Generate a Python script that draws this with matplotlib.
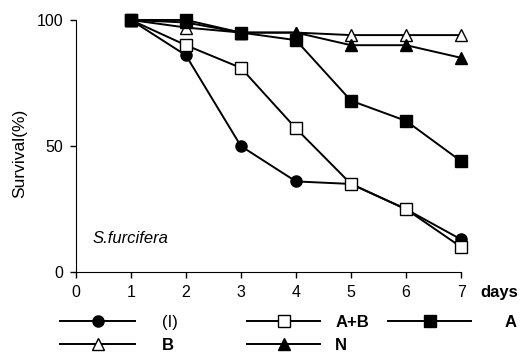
import matplotlib.pyplot as plt
from matplotlib.lines import Line2D

plt.rcParams['font.family'] = ['Liberation Sans', 'DejaVu Sans']

days = [1, 2, 3, 4, 5, 6, 7]
surv_I = [100, 86, 50, 36, 35, 25, 13]
surv_AB = [100, 90, 81, 57, 35, 25, 10]
surv_A = [100, 100, 95, 92, 68, 60, 44]
surv_B = [100, 97, 95, 95, 94, 94, 94]
surv_N = [100, 99, 95, 95, 90, 90, 85]

fig = plt.figure(figsize=(5.3, 3.63), dpi=100)
ax = fig.add_axes([0.143, 0.25, 0.727, 0.695])

style = dict(color='black', lw=1.4, clip_on=False, zorder=3)
ax.plot(days, surv_I, marker='o', ms=8, mfc='black', **style)
ax.plot(days, surv_AB, marker='s', ms=8.5, mfc='white', mec='black', **style)
ax.plot(days, surv_B, marker='^', ms=9, mfc='white', mec='black', **style)
ax.plot(days, surv_N, marker='^', ms=9, mfc='black', **style)
ax.plot(days, surv_A, marker='s', ms=8.5, mfc='black', **style)

ax.set_xlim(0, 7)
ax.set_ylim(0, 100)
ax.set_xticks(range(8))
ax.set_yticks([0, 50, 100])
ax.spines['top'].set_visible(False)
ax.spines['right'].set_visible(False)
ax.tick_params(labelsize=11.5, length=4, width=1, pad=5)
ax.set_ylabel('Survival(%)', fontsize=12.5, labelpad=10)
ax.yaxis.set_label_coords(-0.125, 0.47)
ax.text(0.3, 13.5, 'S.furcifera', fontsize=12, style='italic', va='center')
fig.text(480 / 530, 1 - 292 / 363, 'days', fontsize=12,
         fontweight='bold', ha='left', va='center')


def add_col(items, x0, hlen, pad):
    hs = [Line2D([], [], color='black', lw=1.4, marker=m, ms=s,
                 mfc=fc, mec='black') for m, s, fc, _ in items]
    leg = fig.legend(hs, [lab for *_, lab in items], loc='upper left',
                     bbox_to_anchor=(x0 / 530, 1 - 315 / 363), frameon=False,
                     borderpad=0, borderaxespad=0, handlelength=hlen,
                     handletextpad=pad, labelspacing=0.45, fontsize=12)
    for t in leg.get_texts():
        if t.get_text() != '(I)':
            t.set_fontweight('bold')


add_col([('o', 8, 'black', '(I)'), ('^', 9, 'white', 'B')], 60, 4.5, 1.6)
add_col([('s', 8.5, 'white', 'A+B'), ('^', 9, 'black', 'N')], 247, 4.4, 0.9)
add_col([('s', 8.5, 'black', 'A')], 388, 5.0, 2.0)

fig.savefig('out.png', dpi=100)
